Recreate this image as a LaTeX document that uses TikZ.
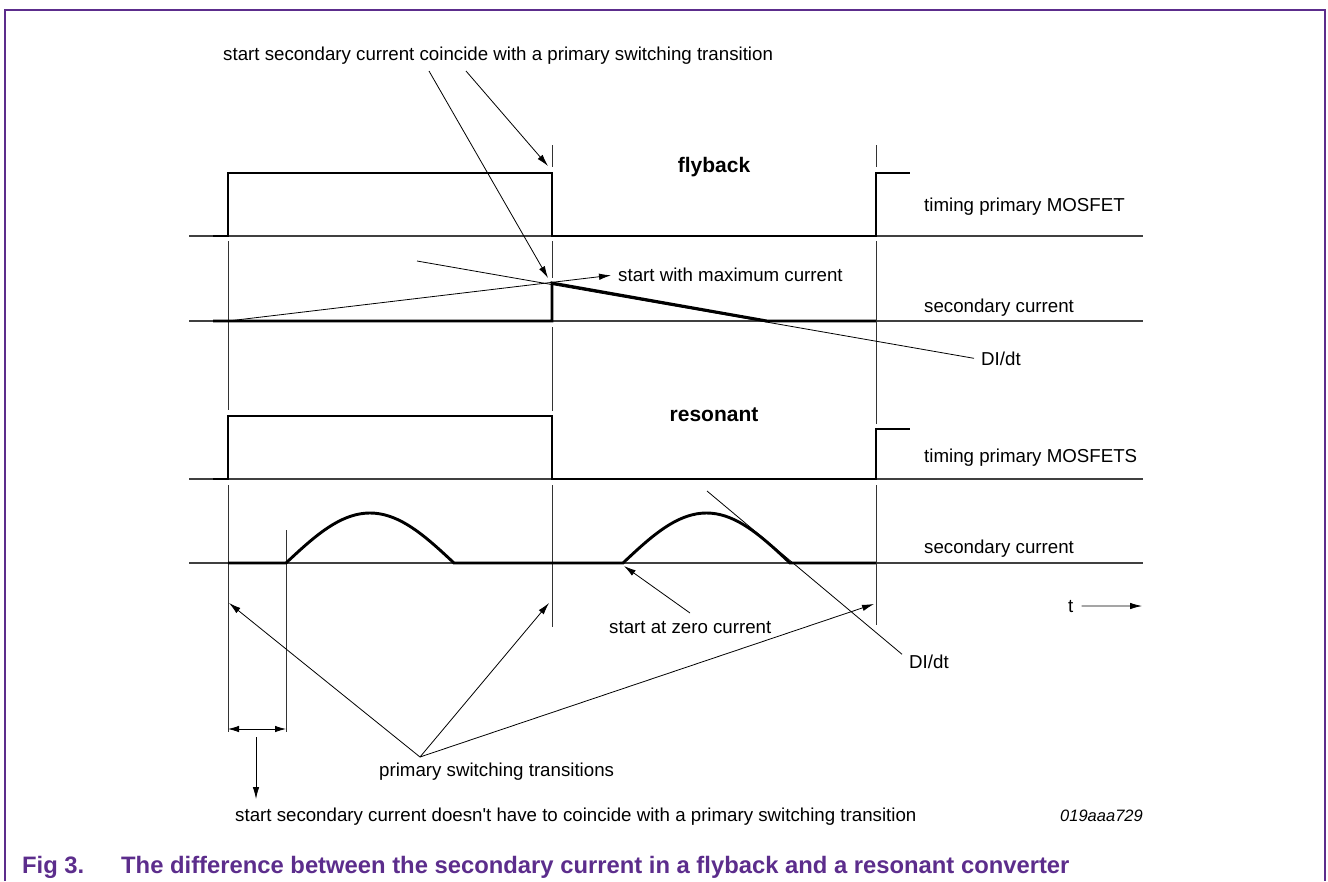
\documentclass[tikz,border=0pt]{standalone}
\usepackage{fontspec}
\setmainfont{Liberation Sans}
\usetikzlibrary{arrows.meta}
\usetikzlibrary{calc}
\definecolor{nxppurple}{RGB}{92,45,140}

\begin{document}
\begin{tikzpicture}[x=1pt,y=-1pt,
        wave/.style={line width=2.9pt, line join=miter},
        axis/.style={line width=1.2pt, black!75},
        tick/.style={line width=0.8pt, black!80},
        leader/.style={line width=0.8pt},
        pointer/.style={line width=0.8pt, -{Latex[length=12pt,width=6.5pt]}},
        lbl/.style={inner sep=0pt, anchor=base west, font=\fontsize{18.7}{22}\selectfont},
        head/.style={inner sep=0pt, anchor=base, font=\fontsize{21}{24}\selectfont\bfseries},
        figcap/.style={inner sep=0pt, anchor=base west, text=nxppurple, font=\fontsize{23.8}{28}\selectfont\bfseries}]

        \useasboundingbox (0,0) rectangle (1328,881);

        % frame
        \draw[nxppurple, line width=1.3pt] (5,881) -- (5,10) -- (1325,10) -- (1325,881);

        % baselines
        \foreach \yb in {236,321,479,563}
            \draw[axis] (189,\yb) -- (1143,\yb);

        % thin verticals
        \draw[tick] (552,145) -- (552,167);
        \draw[tick] (876,145) -- (876,167);
        \draw[tick] (228,241) -- (228,410);
        \draw[tick] (552,241) -- (552,278);
        \draw[tick] (552,327) -- (552,411);
        \draw[tick] (876,241) -- (876,424);
        \draw[tick] (228,485) -- (228,732);
        \draw[tick] (552,485) -- (552,627);
        \draw[tick] (876,485) -- (876,625);
        \draw[tick] (286,530) -- (286,732);

        % flyback
        \node[head] (fly) at (714,172) {flyback};
        \draw[wave] (213,236) -- (228,236) -- (228,173) -- (552,173) -- (552,236) -- (876,236) -- (876,173) -- (910,173);
        \coordinate (fpeak) at (552,283);
        \draw[wave] (213,321) -- (552,321) -- (fpeak) -- (767,321) -- (876,321);
        \node[lbl] (tpm1) at (924,211) {timing primary MOSFET};
        \node[lbl] (sec1) at (924,312) {secondary current};

        % resonant
        \node[head] (res) at (714,421) {resonant};
        \draw[wave] (213,479) -- (228,479) -- (228,416) -- (552,416) -- (552,479) -- (876,479) -- (876,429) -- (910,429);
        \draw[wave] (228,563) -- (286,563)
            -- plot[domain=0:1, samples=37] ({286+168*\x},{563-50*sin(180*\x)})
            -- (623,563)
            -- plot[domain=0:1, samples=37] ({623+167*\x},{563-50*sin(180*\x)})
            -- (876,563);
        \node[lbl] (tpm2) at (924,462) {timing primary MOSFETS};
        \node[lbl] (sec2) at (924,553) {secondary current};

        % top annotation
        \node[lbl] (coinc) at (223,60) {start secondary current coincide with a primary switching transition};
        \coordinate (coincA) at (429,71);
        \coordinate (coincB) at (466,71);
        \draw[pointer] (coincA) -- (548,278);
        \draw[pointer] (coincB) -- (548,166);

        % maximum current
        \node[lbl] (maxc) at (618,281) {start with maximum current};
        \coordinate (fstart) at (228,321);
        \draw[pointer] (fstart) -- ($(maxc.west)+(-7,1)$);

        % DI/dt flyback
        \node[lbl] (didt1) at (981,365) {DI/dt};
        \coordinate (didtA) at (417,261);
        \draw[leader] (didtA) -- ($(didt1.west)+(-7,0)$);

        % zero current
        \node[lbl] (zero) at (609,633) {start at zero current};
        \coordinate (zeroA) at (690,613);
        \coordinate (zeroB) at (624,566);
        \draw[pointer] (zeroA) -- (zeroB);

        % DI/dt resonant
        \node[lbl] (didt2) at (909,668) {DI/dt};
        \coordinate (didtB) at (707,491);
        \draw[leader] (didtB) -- ($(didt2.north west)+(-7,0)$);

        % time axis
        \node[lbl] (t) at (1068,612) {t};
        \coordinate (tend) at (1142,606);
        \draw[pointer] ($(t.east)+(8,0)$) -- (tend);

        % switching transitions
        \node[lbl] (prim) at (379,776) {primary switching transitions};
        \coordinate (apex) at (420,757);
        \draw[pointer] (apex) -- (229,603);
        \draw[pointer] (apex) -- (549,603);
        \draw[pointer] (apex) -- (874,604);

        % delay
        \draw[line width=0.8pt, {Latex[length=11pt,width=6.5pt]}-{Latex[length=11pt,width=6.5pt]}] (228,729) -- (286,729);
        \node[lbl] (delay) at (235,821) {start secondary current doesn\textquotesingle t have to coincide with a primary switching transition};
        \draw[pointer] (256,737) -- (256,799);

        \node[lbl, anchor=base east, font=\fontsize{16.5}{20}\selectfont\itshape] (code) at (1143,821) {019aaa729};

        % caption
        \node[figcap] (fig) at (22,873) {Fig 3.};
        \node[figcap] (title) at (121,873) {The difference between the secondary current in a flyback and a resonant converter};

\end{tikzpicture}
\end{document}
